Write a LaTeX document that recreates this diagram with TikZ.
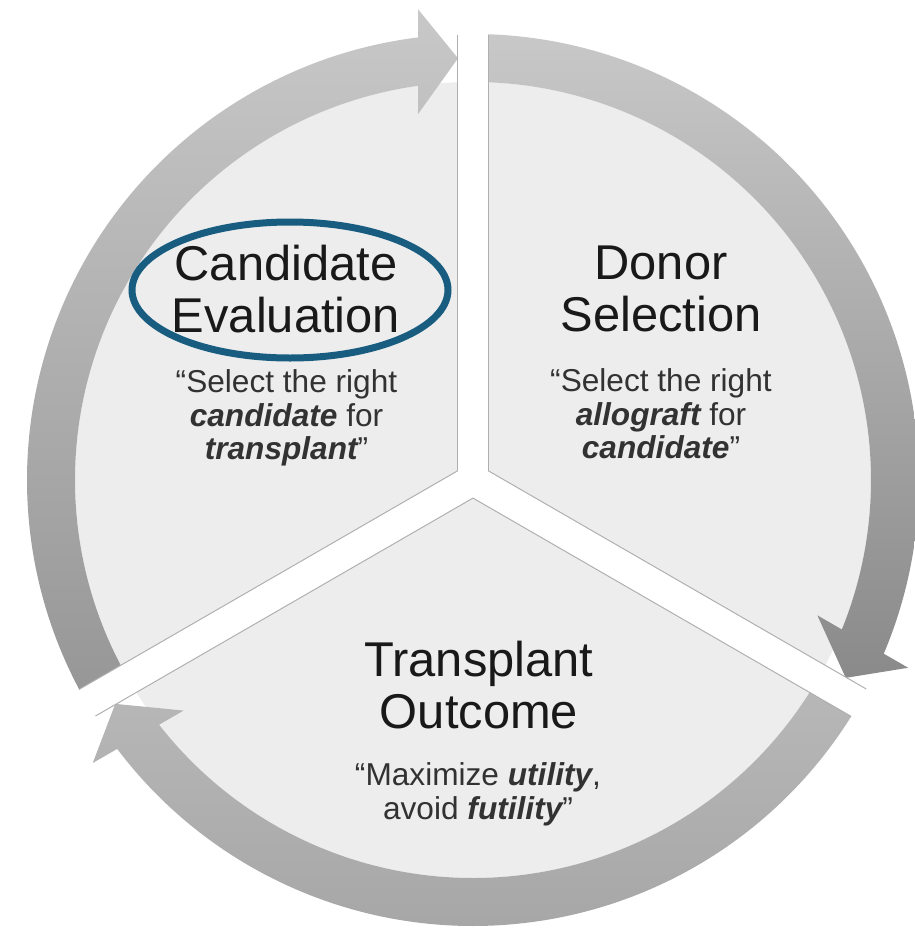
\documentclass[tikz,border=0pt]{standalone}
\usepackage{fontspec}
\setmainfont{Liberation Sans}
\usepackage{xcolor}
\usepackage{tikz}
\definecolor{SectorGrey}{RGB}{237,237,237}
\definecolor{EdgeGrey}{RGB}{175,175,175}
\definecolor{BandLight}{RGB}{200,200,200}
\definecolor{BandDark}{RGB}{150,150,150}
\definecolor{BandMid}{RGB}{184,184,184}
\definecolor{RingBlue}{RGB}{24,92,128}
\definecolor{TitleInk}{RGB}{25,25,25}
\definecolor{QuoteInk}{RGB}{50,50,50}

\begin{document}
\begin{tikzpicture}[
    phasetitle/.style={font=\fontsize{27.8}{29.6}\selectfont,text=TitleInk,
      align=center,inner sep=0pt,anchor=north},
    phasequote/.style={font=\fontsize{18}{19.2}\selectfont,text=QuoteInk,
      align=center,inner sep=0pt,anchor=north},
    gapedge/.style={draw=EdgeGrey,line width=0.645cm},
    gapcut/.style={draw=white,line width=0.6cm}]
  \useasboundingbox (-9.46,-9.12) rectangle (8.84,9.60);
  \coordinate (hub) at (0,0);

  % pie
  \fill[SectorGrey] (hub) circle[radius=7.96];

  % arrows round the pie
  \shade[top color=BandLight,bottom color=BandDark]
    (210:7.96) arc[start angle=210,end angle=97.94,radius=7.96]
    -- (98.55:7.40) -- (92.04:8.44) -- (96.66:9.48) -- (97.08:8.92)
    arc[start angle=97.08,end angle=210,radius=8.92] -- cycle;
  \shade[top color=BandLight,bottom color=BandDark!92!black]
    (90:7.96) arc[start angle=90,end angle=-22.06,radius=7.96]
    -- (-21.45:7.40) -- (-27.96:8.44) -- (-23.34:9.48) -- (-22.92:8.92)
    arc[start angle=-22.92,end angle=90,radius=8.92] -- cycle;
  \shade[top color=BandMid,bottom color=BandDark!85!white]
    (-30:7.96) arc[start angle=-30,end angle=-142.06,radius=7.96]
    -- (-141.45:7.40) -- (-147.96:8.44) -- (-143.34:9.48) -- (-142.92:8.92)
    arc[start angle=-142.92,end angle=-30,radius=8.92] -- cycle;

  % gaps between the sectors
  \foreach \a in {90,210,330}
    \draw[gapedge] (hub) -- (\a:8.90);
  \foreach \a in {90,210,330}
    \draw[gapcut] (hub) -- (\a:9.30);

  % texts
  \node[phasetitle] (candtitle) at (-3.74,4.70) {Candidate\\Evaluation};
  \node[phasequote] (candquote) at (-3.73,2.22)
    {“Select the right\\{\bfseries\itshape candidate} for\\{\bfseries\itshape transplant}”};
  \node[phasetitle] (donortitle) at (3.76,4.68) {Donor\\Selection};
  \node[phasequote] (donorquote) at (3.76,2.24)
    {“Select the right\\{\bfseries\itshape allograft} for\\{\bfseries\itshape candidate}”};
  \node[phasetitle] (outtitle) at (0.12,-3.22) {Transplant\\Outcome};
  \node[phasequote] (outquote) at (0.10,-5.64)
    {“Maximize {\bfseries\itshape utility},\\avoid {\bfseries\itshape futility}”};

  % highlight
  \draw[RingBlue,line width=0.14cm] (-3.66,3.80) ellipse[x radius=3.16,y radius=1.36];
\end{tikzpicture}
\end{document}
